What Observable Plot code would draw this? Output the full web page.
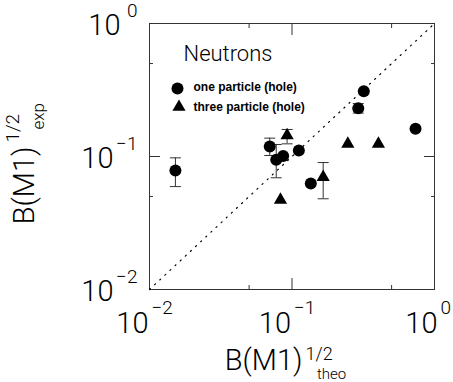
<!DOCTYPE html>
<html><head><meta charset="utf-8">
<script src="https://cdn.jsdelivr.net/npm/d3@7"></script>
<script src="https://cdn.jsdelivr.net/npm/@observablehq/plot@0.6"></script>
<style>body{margin:0;background:#fff} svg{display:block}</style>
</head><body><div id="chart"></div>
<script>
// one particle (hole)
const oneX  = [0.0152, 0.0698, 0.0775, 0.0867, 0.1117, 0.1355, 0.2917, 0.319, 0.736];
const oneY  = [0.0785, 0.119, 0.0944, 0.101, 0.111, 0.0626, 0.231, 0.31, 0.162];
const oneLo = [0.0594, 0.1018, 0.0692, null, null, null, 0.212, null, null];
const oneHi = [0.0977, 0.1374, 0.123, null, null, null, 0.25, null, null];
// three particle (hole)
const threeX  = [0.0924, 0.083, 0.1655, 0.2465, 0.404];
const threeY  = [0.144, 0.0472, 0.0699, 0.1245, 0.1245];
const threeLo = [0.1245, null, 0.0481, null, null];
const threeHi = [0.1596, null, 0.0901, null, null];
// axes
const domainLog = [0.01, 1];
const majorTicks = [0.01, 0.1, 1];
const minorTicks = [0.05, 0.5];
const tickExps = ["−2", "−1", "0"];
const legendLabels = ["one particle (hole)", "three particle (hole)"];
const panelTitle = "Neutrons";
const titleMain = "B(M1)";
const titleSup = "1/2";
const xSub = "theo";
const ySub = "exp";

const ones = oneX.map((x, i) => ({x, y: oneY[i], lo: oneLo[i], hi: oneHi[i]}));
const threes = threeX.map((x, i) => ({x, y: threeY[i], lo: threeLo[i], hi: threeHi[i]}));
const errs = [...ones, ...threes].filter(d => d.lo != null);
const labels = majorTicks.map((v, i) => ({v, e: tickExps[i]}));
const negLabels = labels.filter(d => d.e !== "0");
const zeroLabels = labels.filter(d => d.e === "0");
const diag = domainLog;

const capSymbol = {draw(ctx, size) { const w = Math.sqrt(size / Math.PI); ctx.moveTo(-w, 0); ctx.lineTo(w, 0); }};
const NUM = "Roboto, 'Liberation Sans', sans-serif";
const SANS = "'Liberation Sans', Arial, sans-serif";
const numOpts = {fontFamily: NUM, fontWeight: 300, ariaLabel: "narrow"};
const titleOpts = {fontFamily: NUM, fontWeight: 300, ariaLabel: "narrowt"};

const tickMarks = [];
for (const [anchor, k] of [["bottom","x"],["top","x"],["left","y"],["right","y"]]) {
  const ax = k === "x" ? Plot.axisX : Plot.axisY;
  tickMarks.push(ax(majorTicks, {anchor, tickSize: -11, fill: "none", label: null, stroke: "#333"}));
  tickMarks.push(ax(minorTicks, {anchor, tickSize: -4, fill: "none", label: null, stroke: "#333"}));
}

const chart = Plot.plot({
  width: 453, height: 382,
  marginLeft: 149, marginRight: 19, marginTop: 23, marginBottom: 93,
  style: {background: "#fff", color: "#000", fontFamily: SANS},
  x: {type: "log", domain: domainLog, axis: null},
  y: {type: "log", domain: domainLog, axis: null},
  marks: [
    Plot.frame({stroke: "#333", strokeWidth: 1}),
    ...tickMarks,
    Plot.line(diag, {x: d => d, y: d => d, stroke: "#000", strokeWidth: 1.2, strokeDasharray: "1.2,5.8"}),
    Plot.ruleX(errs, {x: "x", y1: "lo", y2: "hi", stroke: "#333", strokeWidth: 1}),
    Plot.dot(errs, {x: "x", y: "lo", symbol: capSymbol, r: 5.5, stroke: "#333", strokeWidth: 1, fill: "none"}),
    Plot.dot(errs, {x: "x", y: "hi", symbol: capSymbol, r: 5.5, stroke: "#333", strokeWidth: 1, fill: "none"}),
    Plot.dot(ones, {x: "x", y: "y", r: 6, fill: "#000", stroke: "none", symbol: "circle"}),
    Plot.dot(threes, {x: "x", y: "y", r: 4.9, fill: "#000", stroke: "none", symbol: "triangle"}),
    // x tick labels
    Plot.text(negLabels, {x: "v", text: () => "10", frameAnchor: "bottom", textAnchor: "end", lineAnchor: "bottom", dx: -1, dy: 43, fontSize: 29, ...numOpts}),
    Plot.text(negLabels, {x: "v", text: "e", frameAnchor: "bottom", textAnchor: "start", lineAnchor: "bottom", dx: 2, dy: 24, fontSize: 19, ...numOpts}),
    Plot.text(zeroLabels, {x: "v", text: () => "10", frameAnchor: "bottom", textAnchor: "end", lineAnchor: "bottom", dx: 3, dy: 43, fontSize: 29, ...numOpts}),
    Plot.text(zeroLabels, {x: "v", text: "e", frameAnchor: "bottom", textAnchor: "start", lineAnchor: "bottom", dx: 6, dy: 24, fontSize: 19, ...numOpts}),
    // y tick labels
    Plot.text(negLabels, {y: "v", text: () => "10", frameAnchor: "left", textAnchor: "end", lineAnchor: "bottom", dx: -36, dy: 11, fontSize: 29, ...numOpts}),
    Plot.text(zeroLabels, {y: "v", text: () => "10", frameAnchor: "left", textAnchor: "end", lineAnchor: "bottom", dx: -29, dy: 11, fontSize: 29, ...numOpts}),
    Plot.text(labels, {y: "v", text: "e", frameAnchor: "left", textAnchor: "end", lineAnchor: "bottom", dx: -12, dy: -7, fontSize: 19, ...numOpts}),
    // x title
    Plot.text([titleMain], {text: d => d, frameAnchor: "bottom", textAnchor: "end", lineAnchor: "bottom", dx: 10.5, dy: 80, fontSize: 29, ...titleOpts}),
    Plot.text([titleSup], {text: d => d, frameAnchor: "bottom", textAnchor: "start", lineAnchor: "bottom", dx: 13.5, dy: 70, fontSize: 18, ...titleOpts}),
    Plot.text([xSub], {text: d => d, frameAnchor: "bottom", textAnchor: "start", lineAnchor: "bottom", dx: 25, dy: 89, fontSize: 15, ...titleOpts}),
    // y title
    Plot.text([titleMain], {text: d => d, frameAnchor: "left", rotate: -90, textAnchor: "end", lineAnchor: "bottom", dx: -116, dy: -10, fontSize: 29, ...titleOpts}),
    Plot.text([titleSup], {text: d => d, frameAnchor: "left", rotate: -90, textAnchor: "start", lineAnchor: "bottom", dx: -131, dy: -14, fontSize: 19, ...titleOpts}),
    Plot.text([ySub], {text: d => d, frameAnchor: "left", rotate: -90, textAnchor: "start", lineAnchor: "bottom", dx: -106, dy: -27, fontSize: 17, ...titleOpts}),
    // legend
    Plot.text([panelTitle], {text: d => d, frameAnchor: "top-left", textAnchor: "start", lineAnchor: "bottom", dx: 34, dy: 37, fontSize: 22, fontFamily: NUM, fontWeight: 300}),
    Plot.dot([legendLabels[0]], {x: null, y: null, frameAnchor: "top-left", dx: 28, dy: 65, r: 6, fill: "#000", symbol: "circle"}),
    Plot.dot([legendLabels[1]], {x: null, y: null, frameAnchor: "top-left", dx: 29.5, dy: 83.5, r: 4.9, fill: "#000", symbol: "triangle"}),
    Plot.text([legendLabels[0]], {text: d => d, frameAnchor: "top-left", textAnchor: "start", lineAnchor: "bottom", dx: 44, dy: 67, fontSize: 12, fontWeight: "bold", fontFamily: SANS}),
    Plot.text([legendLabels[1]], {text: d => d, frameAnchor: "top-left", textAnchor: "start", lineAnchor: "bottom", dx: 44, dy: 87, fontSize: 12, fontWeight: "bold", fontFamily: SANS})
  ]
});
document.getElementById("chart").appendChild(chart);
// condense the number/title fonts (the original uses a narrow face)
for (const [sel, f] of [['g[aria-label="narrow"] text', 0.8], ['g[aria-label="narrowt"] text', 0.8]]) {
  chart.querySelectorAll(sel).forEach(t => {
    const w = t.getComputedTextLength();
    t.setAttribute("textLength", (w * f).toFixed(1));
    t.setAttribute("lengthAdjust", "spacingAndGlyphs");
  });
}
</script>
</body></html>
